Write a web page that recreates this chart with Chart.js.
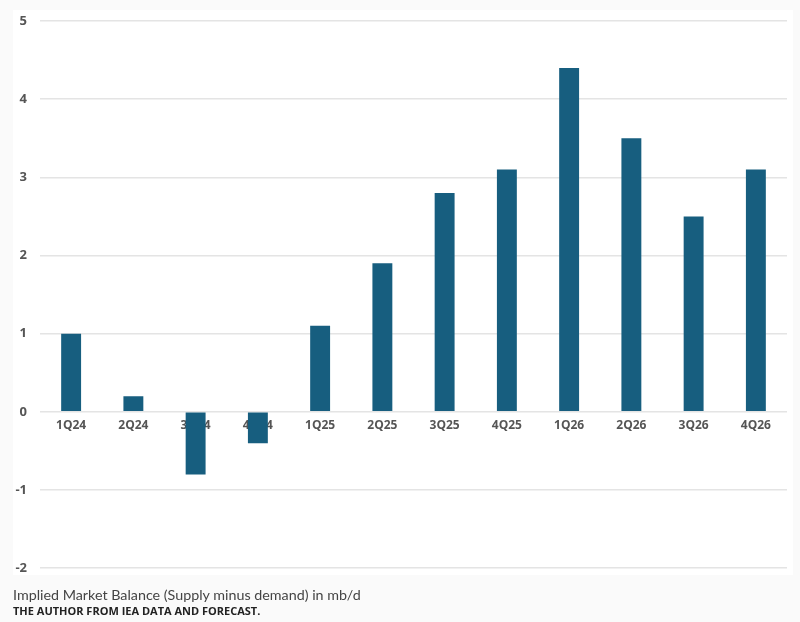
<!DOCTYPE html>
<html>
<head>
<meta charset="utf-8">
<script src="https://cdn.jsdelivr.net/npm/chart.js@4.4.1/dist/chart.umd.min.js"></script>
<style>
    html, body { margin: 0; padding: 0; background: #fafafa; }
    body { width: 800px; height: 622px; position: relative; overflow: hidden; }
    #panel { position: absolute; left: 13px; top: 10px; width: 780px; height: 565px; background: #ffffff; }
    #wrap { position: absolute; left: 0; top: 0; width: 800px; height: 589px; }
    #caption { position: absolute; left: 13px; top: 586px; font-family: Lato, 'Open Sans', sans-serif; font-size: 14.3px; color: #444; }
    #source { position: absolute; left: 13px; top: 603px; font-family: 'Open Sans', sans-serif; font-weight: 700; font-size: 11px; color: #222; }
</style>
</head>
<body>
<div id="panel"></div>
<div id="wrap"><canvas id="balanceChart"></canvas></div>
<div id="caption">Implied Market Balance (Supply minus demand) in mb/d</div>
<div id="source">THE AUTHOR FROM IEA DATA AND FORECAST.</div>

<script>
// Quarters and implied balance (mb/d)
const quarters = ['1Q24', '2Q24', '3Q24', '4Q24', '1Q25', '2Q25', '3Q25', '4Q25', '1Q26', '2Q26', '3Q26', '4Q26'];
const balance = [1.0, 0.2, -0.8, -0.4, 1.1, 1.9, 2.8, 3.1, 4.4, 3.5, 2.5, 3.1];
const yMin = -2;
const yMax = 5;

const ctx = document.getElementById('balanceChart');

new Chart(ctx.getContext('2d'), {
    type: 'bar',
    data: {
        labels: quarters,
        datasets: [{
            data: balance,
            backgroundColor: '#175e7f',
            categoryPercentage: 1.0,
            barPercentage: 0.32
        }]
    },
    options: {
        responsive: true,
        maintainAspectRatio: false,
        animation: false,
        layout: { padding: { left: 0, right: 13, top: 21, bottom: 8 } },
        plugins: {
            legend: { display: false },
            tooltip: { enabled: false }
        },
        scales: {
            x: {
                position: { y: 0 },
                grid: { display: false, drawTicks: false },
                border: { display: false },
                ticks: {
                    padding: 7,
                    color: '#555',
                    font: { family: 'Open Sans', size: 12, weight: 'bold' },
                    maxRotation: 0,
                    autoSkip: false
                }
            },
            y: {
                min: yMin,
                max: yMax,
                afterFit: (scale) => { scale.width = 40; },
                grid: { color: '#e4e4e4', lineWidth: 1.5, drawTicks: false },
                border: { display: false },
                ticks: {
                    stepSize: 1,
                    padding: 13,
                    color: '#555',
                    font: { family: 'Open Sans', size: 13, weight: 'bold' }
                }
            }
        }
    }
});
</script>
</body>
</html>
